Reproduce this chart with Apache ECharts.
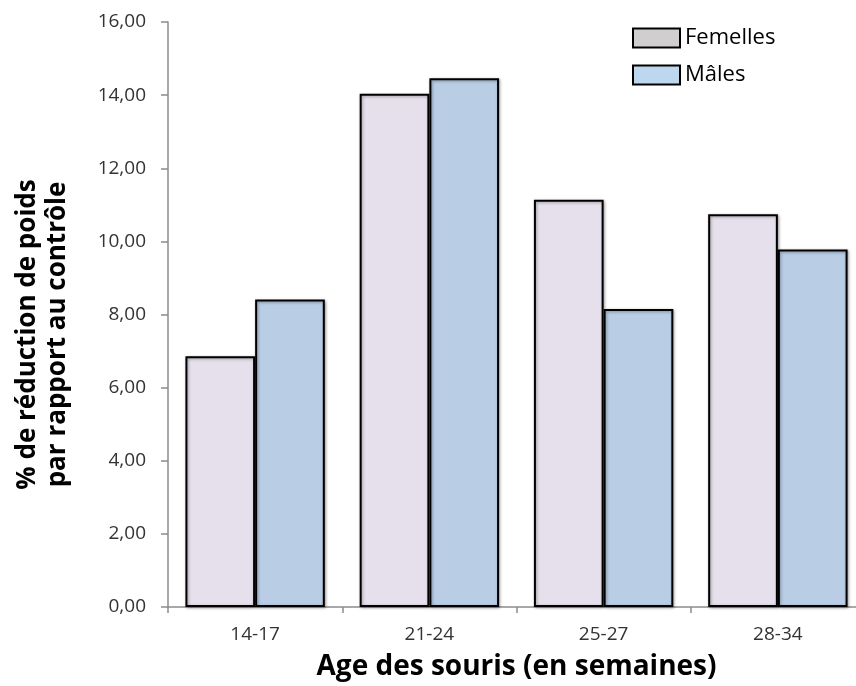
<!DOCTYPE html>
<html><head><meta charset="utf-8">
<script src="https://cdn.jsdelivr.net/npm/echarts@6/dist/echarts.min.js"></script>
<style>html,body{margin:0;padding:0;background:#fff}#c{width:856px;height:686px}</style>
</head><body><div id="c"></div>
<script>
const categories = ['14-17', '21-24', '25-27', '28-34'];
const femelles = [6.86, 14.04, 11.14, 10.74];
const males = [8.41, 14.46, 8.15, 9.78];
const seriesNames = ['Femelles', 'Mâles'];
const yTicks = [0, 2, 4, 6, 8, 10, 12, 14, 16];

const font = '"Open Sans", "Noto Sans", sans-serif';
const chart = echarts.init(document.getElementById('c'), null, {renderer: 'canvas'});
const barStyle = (color) => ({
  color: color, borderColor: '#000', borderWidth: 2,
  shadowBlur: 3, shadowColor: 'rgba(0,0,0,0.35)', shadowOffsetX: 1, shadowOffsetY: 1
});
chart.setOption({
  animation: false,
  backgroundColor: '#fff',
  textStyle: {fontFamily: font},
  grid: {left: 168, top: 22, width: 697, height: 585, containLabel: false, outerBoundsMode: 'none'},
  legend: {
    orient: 'vertical', left: 627, top: 22, itemWidth: 47, itemHeight: 19, itemGap: 15, icon: 'rect',
    textStyle: {fontSize: 22, color: '#000', fontFamily: font},
    data: [
      {name: seriesNames[0], itemStyle: {color: '#D0CECE', borderColor: '#000', borderWidth: 2, shadowBlur: 0}},
      {name: seriesNames[1], itemStyle: {color: '#BDD7EE', borderColor: '#000', borderWidth: 2, shadowBlur: 0}}
    ]
  },
  xAxis: {
    type: 'category', data: categories,
    axisLine: {lineStyle: {color: '#8c8c8c', width: 1.5}},
    axisTick: {show: true, length: 6, lineStyle: {color: '#8c8c8c', width: 1.5}},
    axisLabel: {fontSize: 19, color: '#333', margin: 18, fontFamily: font},
    name: 'Age des souris (en semaines)', nameLocation: 'middle', nameGap: 46,
    nameTextStyle: {fontSize: 28, fontWeight: 'bold', color: '#000', fontFamily: font}
  },
  yAxis: {
    type: 'value', min: 0, max: 16, interval: 2,
    axisLine: {show: true, lineStyle: {color: '#8c8c8c', width: 1.5}},
    axisTick: {show: true, length: 7, lineStyle: {color: '#8c8c8c', width: 1.5}},
    splitLine: {show: false},
    axisLabel: {fontSize: 19, color: '#333', margin: 22, fontFamily: font,
      formatter: v => yTicks.includes(v) ? v.toFixed(2).replace('.', ',') : ''},
    name: '% de réduction de poids\npar rapport au contrôle', nameLocation: 'middle', nameGap: 95,
    nameRotate: 90,
    nameTextStyle: {fontSize: 26, fontWeight: 'bold', color: '#000', fontFamily: font, lineHeight: 30, align: 'center', padding: [0, 40, 0, 0]}
  },
  series: [
    {name: seriesNames[0], type: 'bar', data: femelles, barGap: '0%', barCategoryGap: '20%', itemStyle: barStyle('#E6E0EC')},
    {name: seriesNames[1], type: 'bar', data: males, barGap: '0%', barCategoryGap: '20%', itemStyle: barStyle('#B9CDE5')}
  ]
});
</script></body></html>
